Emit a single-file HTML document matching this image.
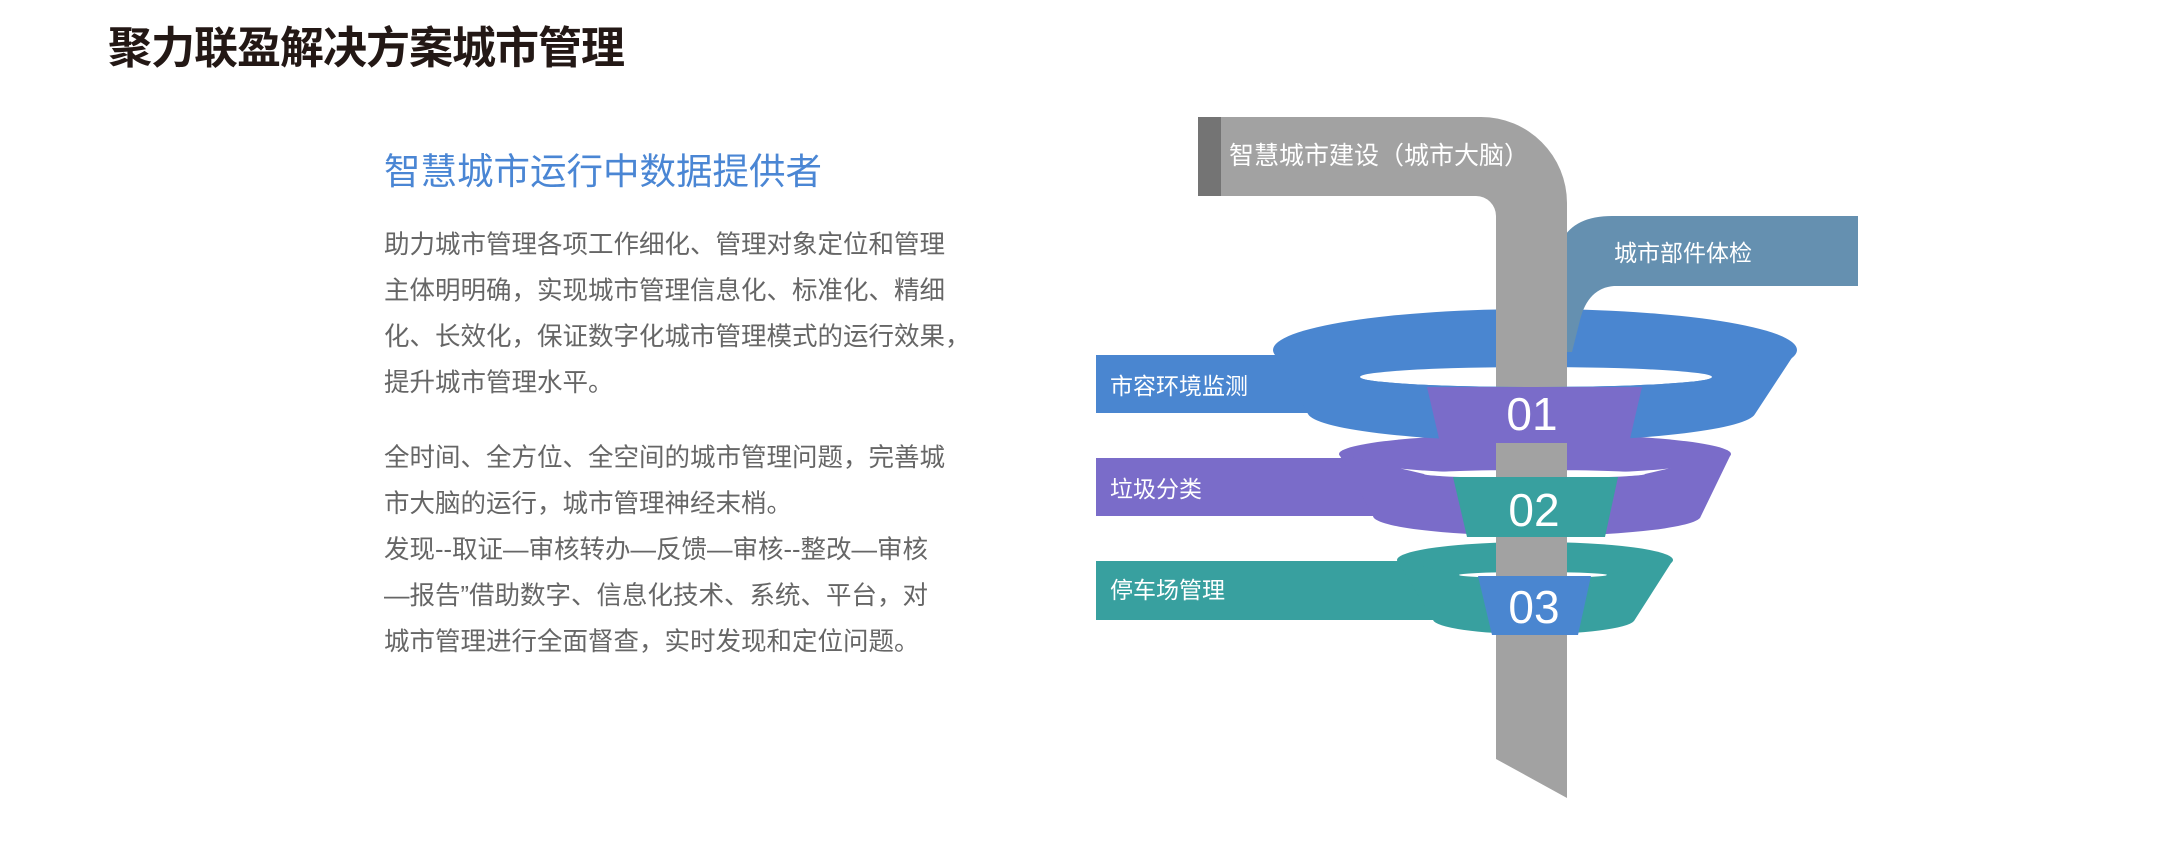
<!DOCTYPE html>
<html><head><meta charset="utf-8"><style>
html,body{margin:0;padding:0;background:#fff;}
body{width:2168px;height:857px;position:relative;overflow:hidden;font-family:"Liberation Sans","Noto Sans CJK SC",sans-serif;}
.t{position:absolute;white-space:nowrap;}
#title{left:108px;top:24px;font-size:44px;font-weight:bold;color:#231815;letter-spacing:-1px;line-height:50px;}
#sub{left:384px;top:142px;font-size:36.5px;color:#4a86d4;}
.p{position:absolute;left:384px;font-size:25.5px;color:#666;line-height:46px;white-space:nowrap;letter-spacing:0px;}
svg{position:absolute;left:0;top:0;}
</style></head><body>
<div class="t" id="title">聚力联盈解决方案城市管理</div>
<div class="t" id="sub">智慧城市运行中数据提供者</div>
<div class="p" style="top:222px">助力城市管理各项工作细化、管理对象定位和管理<br>主体明明确，实现城市管理信息化、标准化、精细<br>化、长效化，保证数字化城市管理模式的运行效果，<br>提升城市管理水平。</div>
<div class="p" style="top:435px">全时间、全方位、全空间的城市管理问题，完善城<br>市大脑的运行，城市管理神经末梢。<br>发现--取证—审核转办—反馈—审核--整改—审核<br>—报告”借助数字、信息化技术、系统、平台，对<br>城市管理进行全面督查，实时发现和定位问题。</div>
<svg width="2168" height="857" viewBox="0 0 2168 857" font-family="Liberation Sans, Noto Sans CJK SC, sans-serif">
<rect x="1096" y="355" width="260" height="58" fill="#4a86d0"/>
<rect x="1096" y="458" width="300" height="58" fill="#7a6cc9"/>
<rect x="1096" y="561" width="350" height="59" fill="#38a09f"/>
<ellipse cx="1535" cy="560" rx="138" ry="18" fill="#38a09f"/>
<ellipse cx="1533" cy="575" rx="74" ry="3" fill="#fff"/>
<ellipse cx="1535" cy="454" rx="196" ry="20" fill="#7a6cc9"/>
<ellipse cx="1534" cy="474" rx="110" ry="4" fill="#fff"/>
<ellipse cx="1535" cy="350" rx="262" ry="41" fill="#4a86d0"/>
<ellipse cx="1536" cy="377" rx="176" ry="10" fill="#fff"/>
<path d="M1562,240 Q1575,216 1612,216 L1858,216 L1858,286 L1614,286 Q1588,288 1580,320 L1572,352 L1562,352 Z" fill="#6590b0"/>
<path d="M1198,117 L1481,117 A86,86 0 0 1 1567,203 L1567,798 L1496,759 L1496,216 A20,20 0 0 0 1476,196 L1198,196 Z" fill="#a2a2a2"/>
<rect x="1198" y="117" width="23" height="79" fill="#747474"/>
<path d="M1397,560 L1459,575 A74,3 0 0 0 1607,575 L1673,560 L1634,621 A101,15 0 0 1 1433,620 Z" fill="#38a09f"/>
<polygon points="1478,576 1591,576 1578,635 1492,635" fill="#4a86d0"/>
<path d="M1339,454 L1424,474 A110,4 0 0 0 1645,474 L1731,454 L1700,518 A164,20 0 0 1 1373,516 Z" fill="#7a6cc9"/>
<polygon points="1453,477 1618,477 1605,537 1467,537" fill="#38a09f"/>
<path d="M1273,350 L1360,377 A176,10 0 0 0 1712,377 L1797,350 L1755,414 A224,29 0 0 1 1308,414 Z" fill="#4a86d0"/>
<polygon points="1427,387 1642,387 1629,443 1440,443" fill="#7a6cc9"/>
<g fill="#fff">
<text x="1229" y="164" font-size="25">智慧城市建设（城市大脑）</text>
<text x="1614" y="261" font-size="23">城市部件体检</text>
<text x="1110" y="394" font-size="23">市容环境监测</text>
<text x="1110" y="497" font-size="23">垃圾分类</text>
<text x="1110" y="598" font-size="23">停车场管理</text>
<text x="1532" y="430" font-size="46" text-anchor="middle">01</text>
<text x="1534" y="526" font-size="46" text-anchor="middle">02</text>
<text x="1534" y="623" font-size="46" text-anchor="middle">03</text>
</g>
</svg>
</body></html>
